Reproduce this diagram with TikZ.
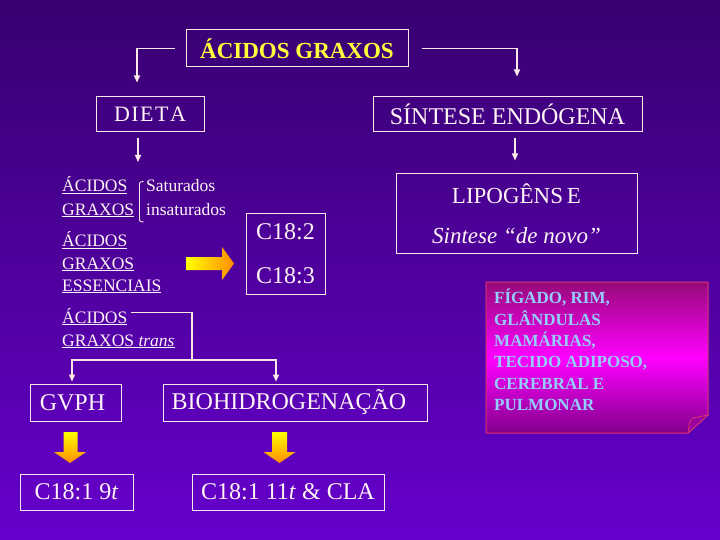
\documentclass[tikz,border=0pt]{standalone}
\usepackage{fontspec}
\setmainfont{Liberation Serif}
\usetikzlibrary{arrows.meta,calc}
\definecolor{bgtop}{RGB}{56,0,112}
\definecolor{bgbot}{RGB}{102,0,204}
\definecolor{lineclr}{RGB}{255,232,232}
\definecolor{txt}{RGB}{255,244,244}
\definecolor{ttl}{RGB}{255,255,60}
\definecolor{organtxt}{RGB}{150,205,255}
\definecolor{magmid}{RGB}{255,0,255}
\definecolor{magtop}{RGB}{150,10,120}
\definecolor{magbot}{RGB}{130,0,140}
\definecolor{magedge}{RGB}{220,50,110}
\definecolor{yel}{RGB}{255,255,0}
\definecolor{org}{RGB}{255,140,0}
\tikzset{
  box/.style={draw=lineclr, line width=1pt, inner sep=0pt, text=txt, font=\fontsize{24}{28}\selectfont},
  small/.style={anchor=base west, inner sep=0pt, text=txt, font=\fontsize{17.5}{21}\selectfont},
  conn/.style={draw=lineclr, line width=1.3pt, -{Triangle[length=7pt,width=6pt]}},
  plain/.style={draw=lineclr, line width=1.3pt},
  yarrowh/.style={left color=yel, right color=org, draw=none},
  yarrowv/.style={top color=yel, bottom color=org, draw=none},
}
\begin{document}
\begin{tikzpicture}[x=1pt,y=-1pt]
\shade[top color=bgtop, bottom color=bgbot] (0,0) rectangle (720,540);
\useasboundingbox (0,0) rectangle (720,540);

% top level
\node[box, text=ttl, minimum width=222pt, minimum height=37pt, font=\bfseries\fontsize{23}{26}\selectfont] (title) at (297,48.5) {ÁCIDOS GRAXOS};
\node[box, minimum width=108pt, minimum height=35pt, font=\fontsize{22}{26}\selectfont] (dieta) at (150,114.5) {D\kern1.5pt I\kern1.5pt E\kern1.5pt T\kern1.5pt A};
\node[box, minimum width=269pt, minimum height=35pt, font=\fontsize{24}{26}\selectfont] (sintese) at (507.5,114.5) {SÍNTESE ENDÓGENA};

\draw[conn] ([xshift=-11pt]title.west) -| ([xshift=-13pt,yshift=14pt]dieta.north);
\draw[conn] ([xshift=13pt]title.east) -| ([xshift=9.5pt,yshift=20pt]sintese.north);

% lipogenese
\node[box, minimum width=241pt, minimum height=79pt, align=center, font=\fontsize{23}{40}\selectfont] (lipo) at (516.5,213.5) {LIPOGÊNS\,E\\\textit{Sintese “de novo”}};
\draw[conn, shorten <=6pt, shorten >=13pt] (sintese.south -| 515,0) -- (lipo.north -| 515,0);

% dieta branch
\coordinate (dtip) at (138,162);
\draw[conn, shorten <=6pt] (dieta.south -| dtip) -- (dtip);

\node[small] (ac1) at (62,192) {\underline{ÁCIDOS}};
\node[small] (gr1) at (62,215) {\underline{GRAXOS}};
\node[small] (sat) at (146,192) {Saturados};
\node[small] (insat) at (146,215) {insaturados};
\draw[lineclr, line width=0.9pt] (143.5,181.5) .. controls (139.5,182) .. (139.5,186) -- (139.5,218) .. controls (139.5,221.5) .. (143.5,222);

\node[small] (ess1) at (62,247) {\underline{ÁCIDOS}};
\node[small] (ess2) at (62,269) {\underline{GRAXOS}};
\node[small] (ess3) at (62,291) {\underline{ESSENCIAIS}};

\path[yarrowh] (186,257) -- (222,257) -- (222,247) -- (234,263.5) -- (222,280) -- (222,270) -- (186,270) -- cycle;

\node[box, minimum width=79pt, minimum height=80pt, align=center, font=\fontsize{24}{44}\selectfont] (c18) at (285.5,254) {C18:2\\C18:3};

% trans
\node[small] (tr1) at (62,323) {\underline{ÁCIDOS}};
\node[small] (tr2) at (62,346) {\underline{GRAXOS \textit{trans}}};

\node[box, minimum width=91pt, minimum height=37pt] (gvph) at (75.5,402.5) {GVPH\hspace*{6pt}};
\node[box, minimum width=264pt, minimum height=37pt] (bio) at (295,402.5) {BIOHIDROGENAÇÃO\hspace*{12pt}};

\coordinate (tj) at (192,360);
\draw[plain] ([xshift=3pt,yshift=4pt]tr1.east) -| (tj);
\draw[conn, shorten >=2pt] (tj) -| ([xshift=-3.5pt]gvph.north);
\draw[conn, shorten >=2pt] (tj) -| ([xshift=-19pt]bio.north);

\path[yarrowv] (63.5,432) -- (77.5,432) -- (77.5,452) -- (86,452) -- (70,463) -- (54,452) -- (63.5,452) -- cycle;
\path[yarrowv] (272,432) -- (287,432) -- (287,452) -- (295.5,452) -- (279.5,463) -- (263.5,452) -- (272,452) -- cycle;

\node[box, minimum width=113pt, minimum height=36pt] (c9) at (76.5,492) {C18:1 9\textit{t}};
\node[box, minimum width=192pt, minimum height=36pt] (c11) at (288,492) {C18:1 11\textit{t} \& CLA};

% organs note
\path[top color=magtop, bottom color=magbot, middle color=magmid, draw=magedge, line width=1pt]
  (486,282) -- (708,282) -- (708,415) -- (688,433) -- (486,433) -- cycle;
\path[fill=magbot!80!magmid, draw=magedge, line width=0.8pt] (688,433) .. controls (689,424) and (690,419) .. (693,418) -- (708,415) -- cycle;
\node[anchor=north west, inner sep=0pt, align=left, text=organtxt, font=\bfseries\fontsize{17}{21.4}\selectfont] (organs) at (494,289) {FÍGADO, RIM,\\GLÂNDULAS\\MAMÁRIAS,\\TECIDO ADIPOSO,\\CEREBRAL E\\PULMONAR};
\end{tikzpicture}
\end{document}
